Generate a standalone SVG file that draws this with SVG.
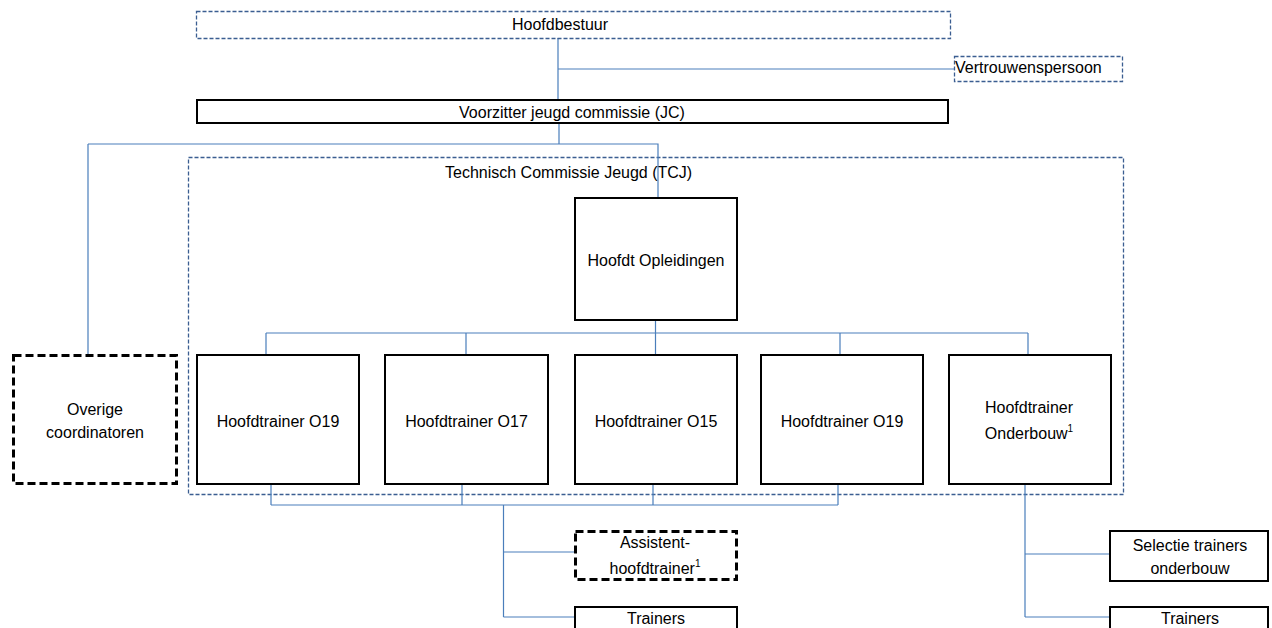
<svg xmlns="http://www.w3.org/2000/svg" width="1272" height="628" viewBox="0 0 1272 628">
<style>
text{font-family:"Liberation Sans",Arial,sans-serif;font-size:16px;fill:#000}
.c{text-anchor:middle}
.box{fill:#fff;stroke:#000;stroke-width:2}
.dbox{fill:none;stroke:#3B5E91;stroke-width:1.3;stroke-dasharray:4 2}
.kbox{fill:#fff;stroke:#000;stroke-width:3;stroke-dasharray:8 4}
.ln{fill:none;stroke:#4A7EBB;stroke-width:1.2}
sup{}
</style>
<rect width="1272" height="628" fill="#fff"/>
<g id="tcj">
<rect class="dbox" x="188.5" y="157.5" width="935" height="337"/>
<text x="445" y="178">Technisch Commissie Jeugd (TCJ)</text>
</g>
<g id="connectors">
<path class="ln" d="M558 38V100M558 69H954"/>
<path class="ln" d="M559 123V144M88 144H658V198M88 144V354"/>
<path class="ln" d="M655.5 320V355M266 333H1028M266 333V355M466 333V355M840 333V355M1028 333V355"/>
<path class="ln" d="M271 484V505M462 484V505M653 484V505M838 484V505M271 505H838"/>
<path class="ln" d="M503.5 505V617M503.5 552H574M503.5 617H575"/>
<path class="ln" d="M1025 484V617M1025 554H1110M1025 617H1110"/>
</g>
<g id="hoofdbestuur">
<rect class="dbox" x="196.5" y="11.5" width="754" height="27"/>
<text class="c" x="560" y="30">Hoofdbestuur</text>
</g>
<g id="vertrouwenspersoon">
<rect class="dbox" x="954.5" y="56.5" width="168" height="25"/>
<text x="955" y="73">Vertrouwenspersoon</text>
</g>
<g id="voorzitter">
<rect class="box" x="197" y="100" width="751" height="23"/>
<text class="c" x="572" y="118">Voorzitter jeugd commissie (JC)</text>
</g>
<g id="hoofdt-opleidingen">
<rect class="box" x="575" y="198" width="162" height="122"/>
<text class="c" x="656" y="266">Hoofdt Opleidingen</text>
</g>
<g id="overige">
<rect class="kbox" x="13.5" y="355.5" width="163" height="128"/>
<text class="c" x="95" y="415">Overige</text>
<text class="c" x="95" y="438">coordinatoren</text>
</g>
<g id="ht-o19">
<rect class="box" x="197" y="355" width="162" height="129"/>
<text class="c" x="278" y="427">Hoofdtrainer O19</text>
</g>
<g id="ht-o17">
<rect class="box" x="385" y="355" width="163" height="129"/>
<text class="c" x="466.5" y="427">Hoofdtrainer O17</text>
</g>
<g id="ht-o15">
<rect class="box" x="575" y="355" width="162" height="129"/>
<text class="c" x="656" y="427">Hoofdtrainer O15</text>
</g>
<g id="ht-o19b">
<rect class="box" x="761" y="355" width="162" height="129"/>
<text class="c" x="842" y="427">Hoofdtrainer O19</text>
</g>
<g id="ht-onderbouw">
<rect class="box" x="949" y="355" width="162" height="129"/>
<text class="c" x="1029" y="413">Hoofdtrainer</text>
<text class="c" x="1029" y="439">Onderbouw<tspan font-size="10" dy="-7">1</tspan></text>
</g>
<g id="assistent">
<rect class="kbox" x="575.5" y="531.5" width="161" height="48"/>
<text class="c" x="655" y="548">Assistent-</text>
<text class="c" x="655" y="574">hoofdtrainer<tspan font-size="10" dy="-7">1</tspan></text>
</g>
<g id="trainers-1">
<rect class="box" x="575" y="607" width="162" height="30"/>
<text class="c" x="656" y="624">Trainers</text>
</g>
<g id="selectie">
<rect class="box" x="1110" y="531" width="158" height="50"/>
<text class="c" x="1190" y="551">Selectie trainers</text>
<text class="c" x="1190" y="574">onderbouw</text>
</g>
<g id="trainers-2">
<rect class="box" x="1110" y="607" width="158" height="30"/>
<text class="c" x="1190" y="624">Trainers</text>
</g>
</svg>
